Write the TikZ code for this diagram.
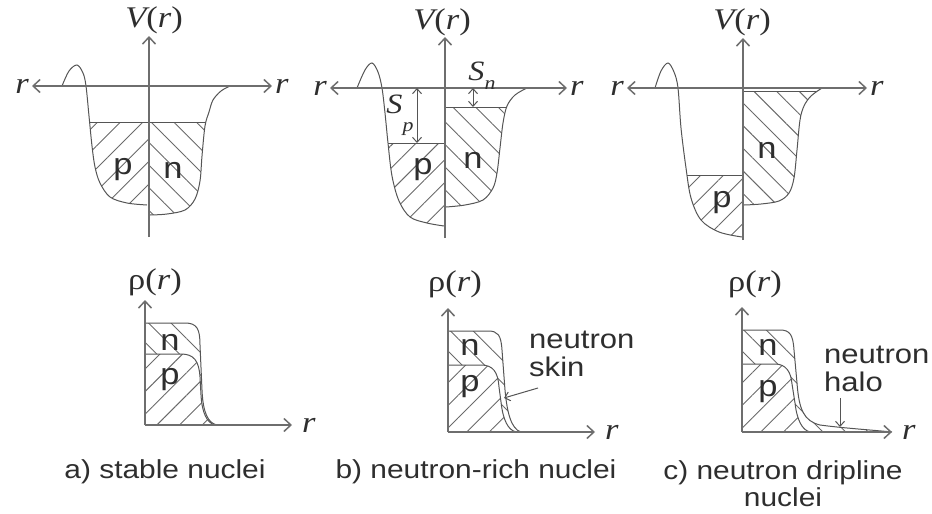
\documentclass[tikz,border=0pt]{standalone}
\usepackage{fontspec}
\setmainfont{Liberation Sans}[FakeStretch=1.15]
\newfontfamily\serifvar{Liberation Serif}[FakeStretch=1.15]
\usetikzlibrary{arrows.meta,patterns.meta}
\definecolor{inkgray}{HTML}{2E2E2E}
\definecolor{curvegray}{HTML}{555555}
\definecolor{axisgray}{HTML}{6E6E6E}
\definecolor{hatchgray}{HTML}{6A6A6A}
\newcommand{\Vr}{{\itshape V}({\itshape r})}
\newcommand{\rhor}{ρ({\itshape r})}

\begin{document}
\begin{tikzpicture}[x=1pt,y=-1pt,
    axis/.style={draw=axisgray, line width=1.5pt},
    wall/.style={draw=curvegray, line width=1pt},
    fermi/.style={draw=curvegray, line width=1pt},
    hatchne/.style={pattern={Lines[angle=45,distance=16pt,line width=0.9pt]}, pattern color=hatchgray},
    hatchnw/.style={pattern={Lines[angle=-45,distance=16pt,line width=0.9pt]}, pattern color=hatchgray},
    barb/.tip={Straight Barb[length=7pt,width=13pt]},
    sbarb/.tip={Straight Barb[length=5pt,width=9pt]},
    dbl/.style={draw=curvegray, line width=1pt, sbarb-sbarb},
    pointer/.style={draw=curvegray, line width=1pt, -sbarb},
    sym/.style={font=\serifvar\fontsize{30}{32}\selectfont, text=inkgray, inner sep=1pt},
    lbl/.style={font=\fontsize{30}{32}\selectfont, text=inkgray, inner sep=1pt},
    txt/.style={font=\fontsize{27}{28}\selectfont, text=inkgray, inner sep=1pt, align=left},
    captext/.style={font=\fontsize{26}{27}\selectfont, text=inkgray, inner sep=1pt, align=center}]
  \useasboundingbox (0,0) rectangle (932,514);

  % a) stable nuclei -- potential
  \begin{scope}[shift={(149,86)}]
    \def\pwall{plot[smooth,tension=.55] coordinates {(-87,0) (-80,-15) (-72,-21) (-66,-13) (-63,0) (-60,30) (-57,60) (-54,81) (-49,97) (-39,111) (-22,117) (-2,119)}}
    \def\nwall{plot[smooth,tension=.55] coordinates {(81,0) (72,5) (64,14) (60,26) (56,40) (53,70) (51,95) (46,113) (36,124) (18,128) (1,129)}}
    \begin{scope}
      \clip \pwall -- (0,119) -- (0,0) -- cycle;
      \fill[hatchne] (-110,36) rectangle (0,160);
      \draw[fermi] (-110,36) -- (0,36);
    \end{scope}
    \begin{scope}
      \clip \nwall -- (0,129) -- (0,0) -- cycle;
      \fill[hatchnw] (0,36) rectangle (110,160);
      \draw[fermi] (0,36) -- (110,36);
    \end{scope}
    \draw[wall] \pwall;
    \draw[wall] \nwall;
    \draw[axis,-barb] (0,151) -- (0,-50);
    \draw[axis,barb-barb] (-117,0) -- (123,0);
    \node[sym] (Va) at (5,-66) {\Vr};
    \node[sym,anchor=east] (rLa) at (-119,0) {\itshape r};
    \node[sym,anchor=west] (rRa) at (125,0) {\itshape r};
    \node[lbl] (pa) at (-26,84) {p};
    \node[lbl] (na) at (24,84) {n};
  \end{scope}

  % b) neutron-rich nuclei -- potential
  \begin{scope}[shift={(445,88)}]
    \def\pwall{plot[smooth,tension=.55] coordinates {(-88,0) (-80,-18) (-73,-25) (-67,-16) (-63,0) (-60,25) (-57,55) (-53,88) (-46,113) (-35,129) (-18,135) (-1,138)}}
    \def\nwall{plot[smooth,tension=.55] coordinates {(82,0) (70,7) (62,18) (58,35) (55,60) (52,85) (48,100) (38,112) (20,117) (1,119)}}
    \begin{scope}
      \clip \pwall -- (0,138) -- (0,0) -- cycle;
      \fill[hatchne] (-110,55) rectangle (0,160);
      \draw[fermi] (-110,55) -- (0,55);
    \end{scope}
    \begin{scope}
      \clip \nwall -- (0,119) -- (0,0) -- cycle;
      \fill[hatchnw] (0,19) rectangle (110,160);
      \draw[fermi] (0,19) -- (110,19);
    \end{scope}
    \draw[wall] \pwall;
    \draw[wall] \nwall;
    \draw[axis,-barb] (0,150) -- (0,-51);
    \draw[axis,barb-barb] (-115,0) -- (122,0);
    \coordinate (sptop) at (-28,0);
    \coordinate (spbot) at (-28,55);
    \draw[dbl] (sptop) -- (spbot);
    \coordinate (sntop) at (28,0);
    \coordinate (snbot) at (28,19);
    \draw[dbl] (sntop) -- (snbot);
    \node[sym] (Sp) at (-45,27) {{\fontsize{28}{30}\selectfont\itshape S}\raisebox{-0.6em}{\fontsize{19}{19}\selectfont\itshape p}};
    \node[sym] (Sn) at (37,-12) {{\fontsize{28}{30}\selectfont\itshape S}\raisebox{-0.3em}{\fontsize{19}{19}\selectfont\itshape n}};
    \node[sym] (Vb) at (-3,-66) {\Vr};
    \node[sym,anchor=east] (rLb) at (-117,0) {\itshape r};
    \node[sym,anchor=west] (rRb) at (124,0) {\itshape r};
    \node[lbl] (pb) at (-22,82) {p};
    \node[lbl] (nb) at (28,72) {n};
  \end{scope}

  % c) neutron dripline nuclei -- potential
  \begin{scope}[shift={(743,88)}]
    \def\pwall{plot[smooth,tension=.55] coordinates {(-88,0) (-82,-17) (-75,-25) (-69,-16) (-65,0) (-62,40) (-57,80) (-52,110) (-42,132) (-24,144) (-1,149)}}
    \def\nwall{plot[smooth,tension=.55] coordinates {(79,0) (68,8) (61,18) (57,32) (54,62) (51,90) (46,105) (36,113) (18,116) (1,117)}}
    \begin{scope}
      \clip \pwall -- (0,149) -- (0,0) -- cycle;
      \fill[hatchne] (-110,87) rectangle (0,170);
      \draw[fermi] (-110,87) -- (0,87);
    \end{scope}
    \begin{scope}
      \clip \nwall -- (0,117) -- (0,0) -- cycle;
      \fill[hatchnw] (0,3) rectangle (110,160);
      \draw[fermi] (0,3) -- (110,3);
    \end{scope}
    \draw[wall] \pwall;
    \draw[wall] \nwall;
    \draw[axis,-barb] (0,152) -- (0,-50);
    \draw[axis,barb-barb] (-116,0) -- (124,0);
    \node[sym] (Vc) at (-1,-66) {\Vr};
    \node[sym,anchor=east] (rLc) at (-118,0) {\itshape r};
    \node[sym,anchor=west] (rRc) at (126,0) {\itshape r};
    \node[lbl] (pc) at (-21,115) {p};
    \node[lbl] (nc) at (24,62) {n};
  \end{scope}

  % a) density
  \begin{scope}[shift={(145,425)}]
    \def\nrho{(0,-102) -- (40,-102) .. controls (52,-102) and (55,-96) .. (55,-80) -- (57,-35) .. controls (58,-12) and (63,-2) .. (72,0)}
    \def\prho{(0,-71) -- (36,-71) .. controls (49,-71) and (54,-64) .. (55,-48) -- (56,-30) .. controls (57,-12) and (62,-2) .. (70,0)}
    \fill[hatchnw,even odd rule] \nrho -- (0,0) -- cycle \prho -- (0,0) -- cycle;
    \fill[hatchne] \prho -- (0,0) -- cycle;
    \draw[wall] \nrho;
    \draw[wall] \prho;
    \draw[axis,-barb] (0,0) -- (0,-125);
    \draw[axis,-barb] (0,0) -- (147,0);
    \node[sym] (rhoa) at (10,-143) {\rhor};
    \node[sym,anchor=west] (rda) at (156,0) {\itshape r};
    \node[lbl] (dna) at (25,-83) {n};
    \node[lbl] (dpa) at (25,-45) {p};
  \end{scope}

  % b) density
  \begin{scope}[shift={(448,432)}]
    \def\nrho{(0,-101) -- (40,-101) .. controls (50,-101) and (53,-97) .. (54,-82) -- (57,-42) .. controls (59,-20) and (63,-3) .. (73,0)}
    \def\prho{(0,-67) -- (33,-67) .. controls (45,-67) and (50,-60) .. (51,-45) -- (53,-30) .. controls (55,-12) and (60,-2) .. (68,0)}
    \fill[hatchnw,even odd rule] \nrho -- (0,0) -- cycle \prho -- (0,0) -- cycle;
    \fill[hatchne] \prho -- (0,0) -- cycle;
    \draw[wall] \nrho;
    \draw[wall] \prho;
    \draw[axis,-barb] (0,0) -- (0,-124);
    \draw[axis,-barb] (0,0) -- (147,0);
    \node[sym] (rhob) at (7,-148) {\rhor};
    \node[sym,anchor=west] (rdb) at (156,0) {\itshape r};
    \node[lbl] (dnb) at (22,-85) {n};
    \node[lbl] (dpb) at (22,-45) {p};
    \node[txt,anchor=west] (skin) at (80,-78) {neutron\\skin};
    \coordinate (skintail) at (90,-44);
    \coordinate (skintip) at (56,-34);
    \draw[pointer] (skintail) -- (skintip);
  \end{scope}

  % c) density
  \begin{scope}[shift={(742,432)}]
    \def\nrho{(0,-102) -- (38,-102) .. controls (48,-102) and (51,-97) .. (52,-82) -- (55,-49) .. controls (57,-22) and (62,-11) .. (78,-7) .. controls (100,-4) and (130,-2) .. (150,0)}
    \def\prho{(0,-68) -- (33,-68) .. controls (44,-68) and (49,-60) .. (50,-48) -- (53,-29) .. controls (55,-12) and (60,-2) .. (68,0)}
    \fill[hatchnw,even odd rule] \nrho -- (0,0) -- cycle \prho -- (0,0) -- cycle;
    \fill[hatchne] \prho -- (0,0) -- cycle;
    \draw[wall] \nrho;
    \draw[wall] \prho;
    \draw[axis,-barb] (0,0) -- (0,-125);
    \draw[axis,-barb] (0,0) -- (150,0);
    \node[sym] (rhoc) at (13,-148) {\rhor};
    \node[sym,anchor=west] (rdc) at (159,0) {\itshape r};
    \node[lbl] (dnc) at (26,-85) {n};
    \node[lbl] (dpc) at (26,-40) {p};
    \node[txt,anchor=west] (halo) at (81,-63) {neutron\\halo};
    \coordinate (halotail) at (98,-34);
    \coordinate (halotip) at (98,-5);
    \draw[pointer] (halotail) -- (halotip);
  \end{scope}

  % captions
  \node[captext] (capa) at (165,472) {a) stable nuclei};
  \node[captext] (capb) at (476,472) {b) neutron-rich nuclei};
  \node[captext] (capc) at (783,484) {c) neutron dripline\\nuclei};
\end{tikzpicture}
\end{document}
